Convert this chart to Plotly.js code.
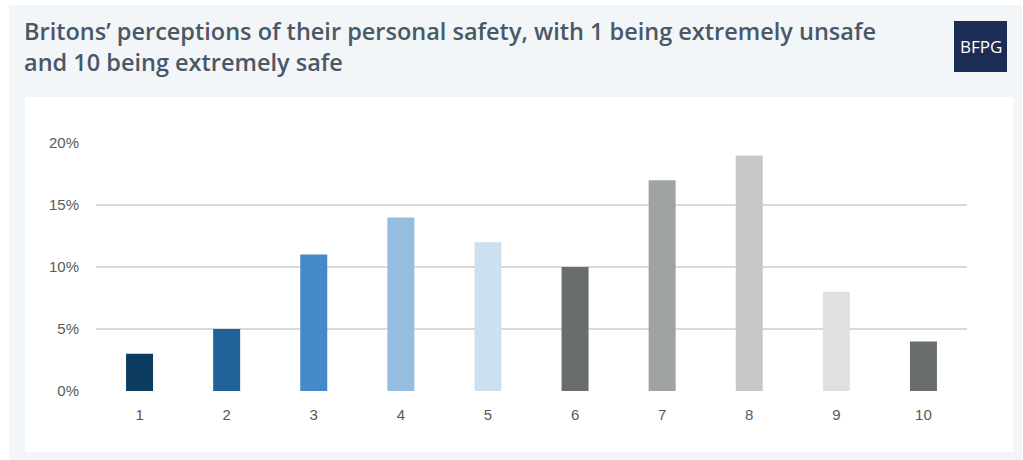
<!DOCTYPE html>
<html>
<head>
<meta charset="utf-8">
<script src="https://cdn.plot.ly/plotly-3.0.1.min.js"></script>
<style>
html,body{margin:0;padding:0;background:#ffffff;}
#chart{width:1023px;height:460px;}
</style>
</head>
<body>
<div id="chart"></div>
<script>
const categories = ["1","2","3","4","5","6","7","8","9","10"];
const values = [3,5,11,14,12,10,17,19,8,4];
const barColors = ["#0c3d61","#22629a","#4489c8","#95bde0","#cde0ef","#6a6d6e","#a0a3a4","#c6c7c7","#dfe0df","#6a6d6e"];
const yTickVals = [0,5,10,15,20];
const yTickText = ["0%","5%","10%","15%","20%"];
const titleText = "Britons’ perceptions of their personal safety, with 1 being extremely unsafe<br>and 10 being extremely safe";
const logoText = "BFPG";

const W = 1023, H = 460;
const L = 96, R = 56, T = 143, B = 69;
const PW = W - L - R, PH = H - T - B;
const px = v => (v - L) / PW;
const py = v => (H - B - v) / PH;

const trace = {
  type: "bar",
  x: categories,
  y: values,
  marker: {color: barColors, line: {width: 0}},
  hoverinfo: "skip"
};

const layout = {
  width: W, height: H,
  margin: {l: L, r: R, t: T, b: B, pad: 0},
  paper_bgcolor: "#ffffff",
  plot_bgcolor: "rgba(0,0,0,0)",
  showlegend: false,
  bargap: 0.69,
  font: {family: "Liberation Sans, Arial, sans-serif", color: "#595959", size: 15},
  xaxis: {
    type: "category",
    showgrid: false, zeroline: false, showline: false, ticks: "",
    tickfont: {size: 15, color: "#595959", family: "Liberation Sans, Arial, sans-serif"},
    ticklabelstandoff: 13,
    fixedrange: true
  },
  yaxis: {
    range: [0, 20],
    tickvals: yTickVals, ticktext: yTickText,
    showgrid: true, gridcolor: "#d9d9d9", gridwidth: 2,
    zeroline: false, showline: false, ticks: "",
    tickfont: {size: 15, color: "#595959", family: "Liberation Sans, Arial, sans-serif"},
    ticklabelstandoff: 16,
    fixedrange: true
  },
  shapes: [
    {type: "rect", xref: "paper", yref: "paper", layer: "below",
     x0: px(9), x1: px(1022), y0: py(460), y1: py(5),
     fillcolor: "#f2f6f9", line: {width: 0}},
    {type: "rect", xref: "paper", yref: "paper", layer: "below",
     x0: px(25), x1: px(1013), y0: py(452), y1: py(97),
     fillcolor: "#ffffff", line: {width: 0}},
    {type: "rect", xref: "paper", yref: "paper", layer: "below",
     x0: px(954), x1: px(1007), y0: py(72), y1: py(21),
     fillcolor: "#1c2c54", line: {width: 0}}
  ],
  annotations: [
    {xref: "paper", yref: "paper", x: px(22), y: py(13), xanchor: "left", yanchor: "top",
     align: "left", showarrow: false, text: titleText,
     font: {family: "Open Sans, Noto Sans, sans-serif", size: 23.5, weight: 600, color: "#4a5866"}},
    {xref: "paper", yref: "paper", x: px(980.5), y: py(46.5), xanchor: "center", yanchor: "middle",
     showarrow: false, text: logoText,
     font: {family: "Open Sans, Noto Sans, sans-serif", size: 17, weight: 500, color: "#ffffff"}}
  ]
};

Plotly.newPlot("chart", [trace], layout, {displayModeBar: false, staticPlot: true});
</script>
</body>
</html>
